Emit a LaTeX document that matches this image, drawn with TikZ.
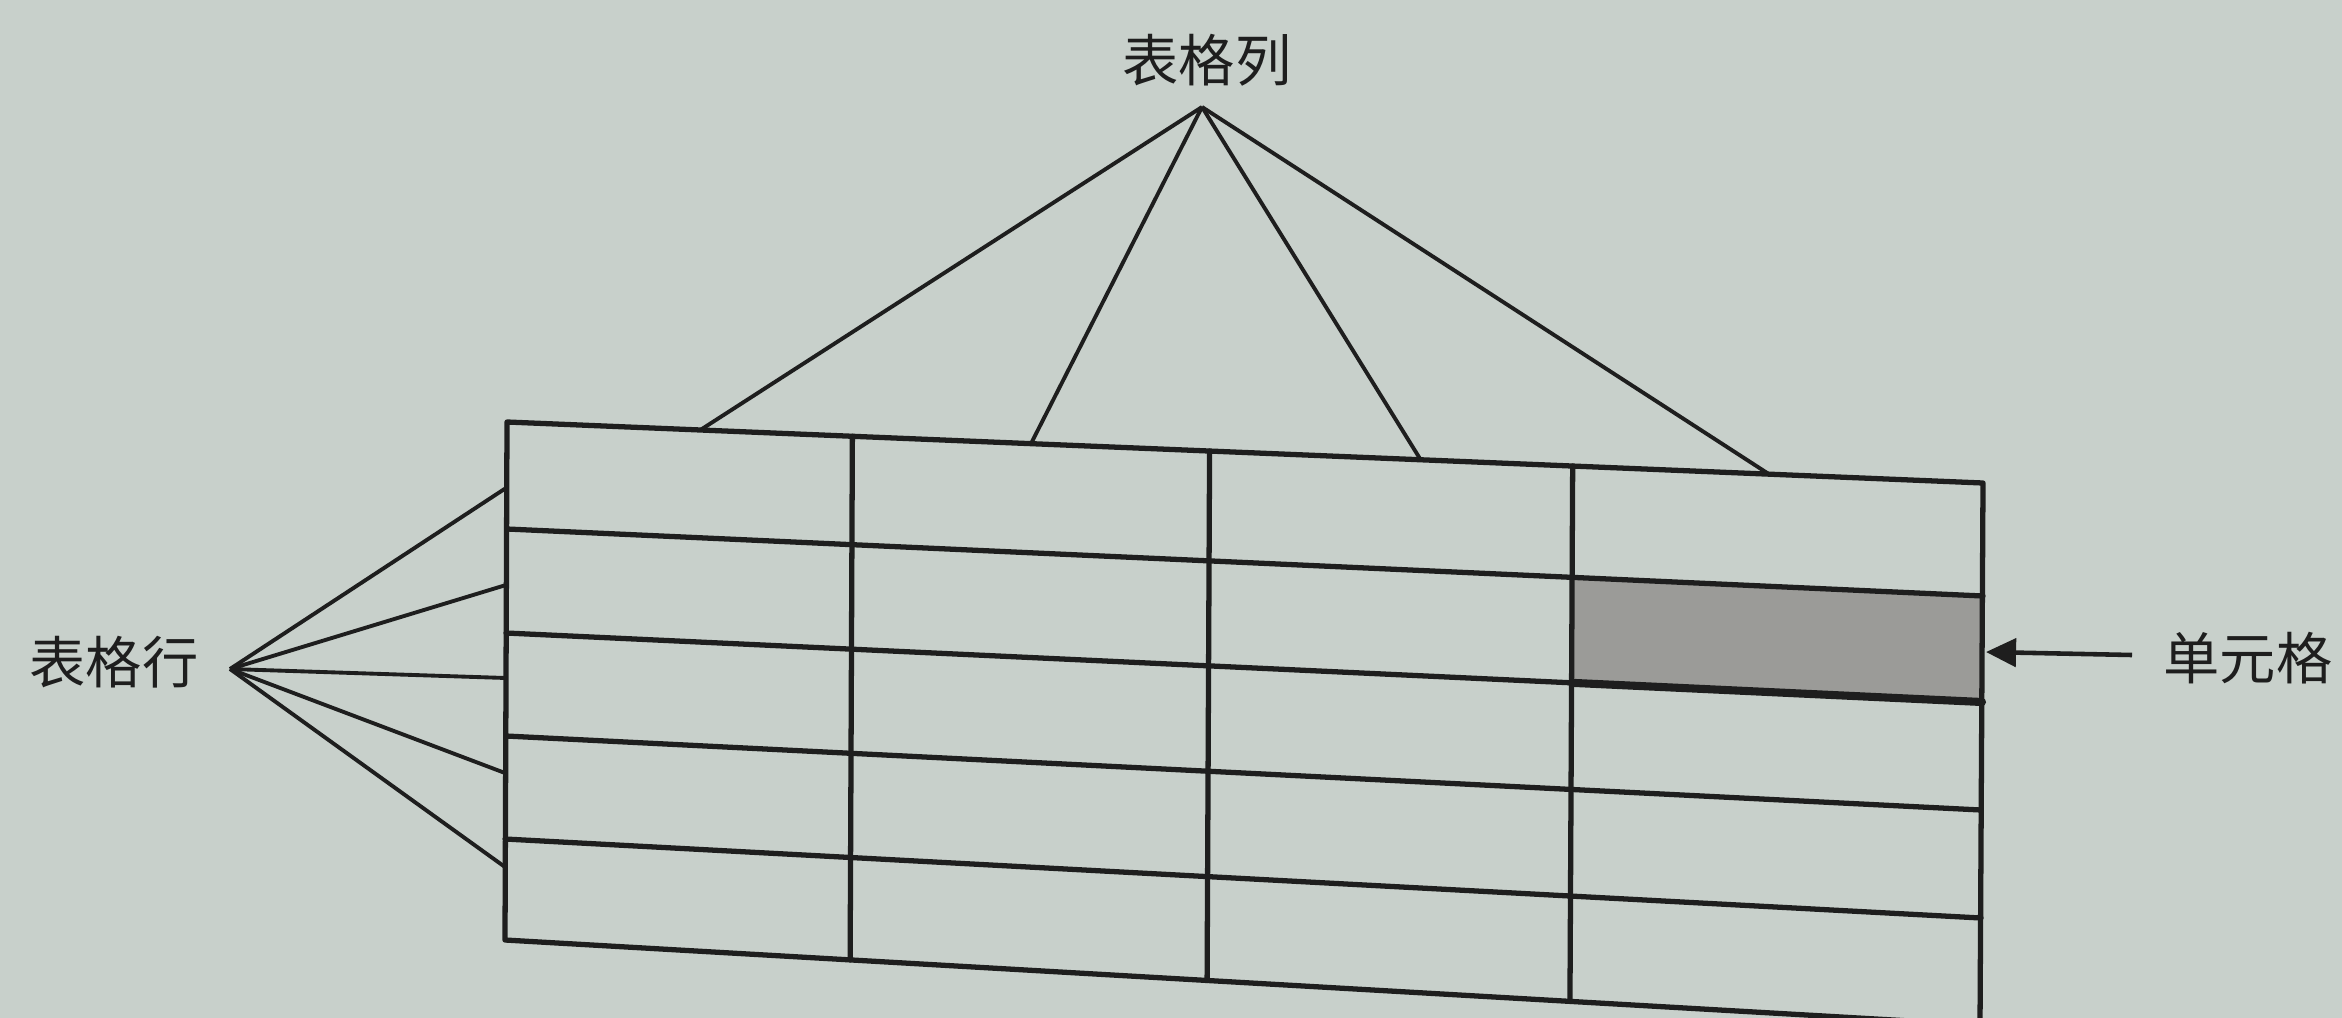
\documentclass[tikz,border=0pt]{standalone}
\usepackage{fontspec}
\newfontfamily\cjk{Noto Sans CJK SC}
\usetikzlibrary{arrows.meta,calc}
\definecolor{bg}{RGB}{200,208,203}
\definecolor{cellgray}{RGB}{155,155,152}
\definecolor{ink}{RGB}{30,30,30}
\begin{document}
\begin{tikzpicture}[x=0.01cm,y=-0.01cm,
  gridline/.style={draw=ink,line width=1.5pt,line cap=round,line join=round},
  leader/.style={draw=ink,line width=1.1pt},
  lbl/.style={font=\cjk\fontsize{16pt}{18pt}\selectfont,text=ink,inner sep=0pt}]
\useasboundingbox (0,0) rectangle (2342,1018);
\fill[bg] (0,0) rectangle (2342,1018);
\clip (0,0) rectangle (2342,1018);
% row line end points (left / right border)
\coordinate (L0) at (507,422); \coordinate (R0) at (1983,483);
\coordinate (L1) at (507,529); \coordinate (R1) at (1983,596);
\coordinate (L2) at (506,633); \coordinate (R2) at (1982,702);
\coordinate (L3) at (506,736); \coordinate (R3) at (1981,810);
\coordinate (L4) at (505,839); \coordinate (R4) at (1981,918);
\coordinate (L5) at (505,940); \coordinate (R5) at (1980,1025);
% highlighted cell
\fill[cellgray] ($(L1)!0.722!(R1)$) -- (R1) -- (R2) -- ($(L2)!0.722!(R2)$) -- cycle;
% grid
\foreach \i in {1,...,4} \draw[gridline] (L\i) -- (R\i);
\foreach \p in {0.234,0.476,0.722} \draw[gridline] ($(L0)!\p!(R0)$) -- ($(L5)!\p!(R5)$);
\draw[gridline] (L0) -- (R0) -- (R5) -- (L5) -- cycle;
\draw[gridline,line width=2.3pt] ($(L2)!0.722!(R2)$) -- (R2);
% labels
\node[lbl] (colhdr) at (1207,60) {表格列};
\node[lbl] (rowhdr) at (114,662) {表格行};
\node[lbl] (cellhdr) at (2248,658) {单元格};
% column leaders
\coordinate (colapex) at (1202,107);
\foreach \p [count=\k] in {0.131,0.355,0.619,0.855}
  \coordinate (ctop\k) at ($(L0)!\p!(R0)$);
\foreach \k in {1,...,4} \draw[leader] (colapex) -- (ctop\k);
% row leaders
\coordinate (rowapex) at (230,669);
\coordinate (rl1) at (506,488);
\coordinate (rl2) at (506,585);
\coordinate (rl3) at (506,678);
\coordinate (rl4) at (505,773);
\coordinate (rl5) at (505,867);
\foreach \k in {1,...,5} \draw[leader] (rowapex) -- (rl\k);
% cell arrow
\coordinate (arrstart) at (2132,655);
\coordinate (arrtip) at (1986,652);
\draw[leader,line width=1.3pt,-{Triangle[length=0.3cm,width=0.28cm]}] (arrstart) -- (arrtip);
\end{tikzpicture}
\end{document}
